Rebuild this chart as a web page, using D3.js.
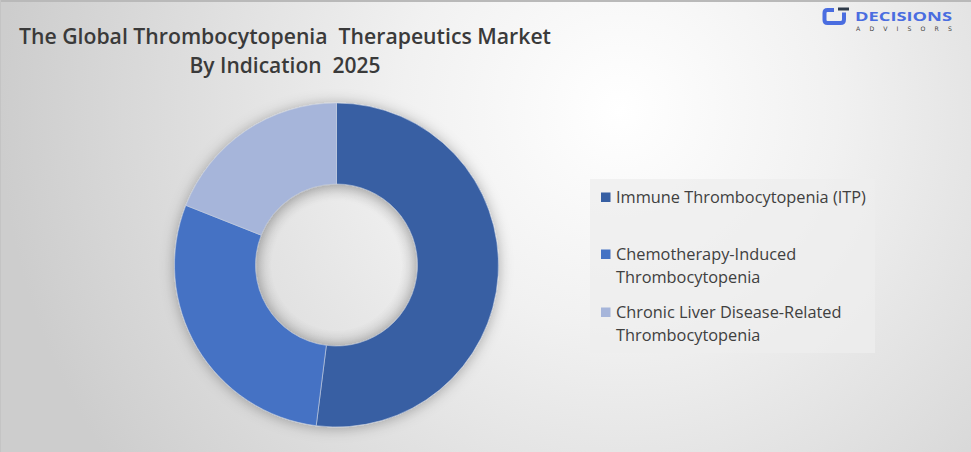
<!DOCTYPE html>
<html><head><meta charset="utf-8">
<script src="https://cdn.jsdelivr.net/npm/d3@7"></script>
<style>html,body{margin:0;padding:0;overflow:hidden;}svg{display:block;}</style>
</head><body>
<script>
const categories = ["Immune Thrombocytopenia (ITP)", "Chemotherapy-Induced Thrombocytopenia", "Chronic Liver Disease-Related Thrombocytopenia"];
const values = [52, 29, 19];
const legendLines = [["Immune Thrombocytopenia (ITP)"], ["Chemotherapy-Induced", "Thrombocytopenia"], ["Chronic Liver Disease-Related", "Thrombocytopenia"]];
const colors = ["#375fa3", "#4472c4", "#a6b5da"];
const titleLines = ["The Global Thrombocytopenia  Therapeutics Market", "By Indication  2025"];

const W = 971, H = 452;
const svg = d3.select("body").append("svg").attr("width", W).attr("height", H);
const defs = svg.append("defs");
const rg = defs.append("radialGradient").attr("id", "bg").attr("gradientUnits", "userSpaceOnUse")
  .attr("cx", 620).attr("cy", 110).attr("r", 620);
rg.append("stop").attr("offset", "0").attr("stop-color", "#ffffff");
rg.append("stop").attr("offset", "0.35").attr("stop-color", "#f1f1f1");
rg.append("stop").attr("offset", "1").attr("stop-color", "#cdcdcd");
const f = defs.append("filter").attr("id", "sh").attr("x", "-30%").attr("y", "-30%").attr("width", "160%").attr("height", "160%");
f.append("feDropShadow").attr("dx", 0).attr("dy", 1).attr("stdDeviation", 7).attr("flood-color", "#000").attr("flood-opacity", 0.3);

svg.append("rect").attr("width", W).attr("height", H).attr("fill", "url(#bg)");
svg.append("rect").attr("width", W).attr("height", 2).attr("fill", "#b9b9b9");
svg.append("rect").attr("x", 0).attr("y", 0).attr("width", 1).attr("height", H).attr("fill", "#c4c4c4");

// title
const tfont = "'Open Sans', sans-serif";
const t1 = svg.append("text").attr("x", 285).attr("y", 43.5).attr("text-anchor", "middle")
  .attr("font-family", tfont).attr("font-weight", 600).attr("font-size", 22).attr("fill", "#3a3a3a")
  .attr("xml:space", "preserve").text(titleLines[0]);
const t2 = svg.append("text").attr("x", 285).attr("y", 73).attr("text-anchor", "middle")
  .attr("font-family", tfont).attr("font-weight", 600).attr("font-size", 22).attr("fill", "#3a3a3a")
  .attr("xml:space", "preserve").text(titleLines[1]);
[[t1, 532], [t2, 191]].forEach(([t, w]) => {
  t.attr("textLength", w).attr("lengthAdjust", "spacingAndGlyphs");
});

// donut
const cx = 336.5, cy = 265, rOut = 162, rIn = 81;
const pie = d3.pie().sort(null).value(d => d)(values);
const arc = d3.arc().innerRadius(rIn).outerRadius(rOut);
const g = svg.append("g").attr("transform", `translate(${cx},${cy})`);
g.append("g").attr("filter", "url(#sh)").selectAll("path").data(pie).join("path")
  .attr("d", arc).attr("fill", (d, i) => colors[i]).attr("stroke", "#c8d0e0").attr("stroke-width", 0.6);
const ig = defs.append("radialGradient").attr("id", "hole");
ig.append("stop").attr("offset", "0.8").attr("stop-color", "#000").attr("stop-opacity", 0);
ig.append("stop").attr("offset", "1").attr("stop-color", "#000").attr("stop-opacity", 0.08);
g.append("circle").attr("r", rIn).attr("fill", "url(#hole)");

// legend
svg.append("rect").attr("x", 590).attr("y", 179).attr("width", 285).attr("height", 174).attr("fill", "#ededed").attr("opacity", 0.75);
const lfont = "'Open Sans', 'Noto Sans', sans-serif";
const rowY = [[197], [254, 277], [312, 335]];
const lg = svg.append("g");
legendLines.forEach((lines, i) => {
  lg.append("rect").attr("x", 601).attr("y", rowY[i][0] - 4.5).attr("width", 9.5).attr("height", 9.5).attr("fill", colors[i]);
  lines.forEach((ln, j) => {
    lg.append("text").attr("x", 616).attr("y", rowY[i][j]).attr("dy", "0.35em")
      .attr("font-family", lfont).attr("font-size", 15.5).attr("fill", "#404040").text(ln);
  });
});
const firstT = lg.selectAll("text").nodes()[0];
const scale = 250 / firstT.getComputedTextLength();
lg.selectAll("text").attr("font-size", 15.5 * scale);

// logo
const logo = svg.append("g");
logo.append("path").attr("d", "M834,10 H827.5 Q824.5,10 824.5,13 V20 Q824.5,23 827.5,23 H840.5 Q844,23 844,19.5 V12.5")
  .attr("fill", "none").attr("stroke", "#4a6de0").attr("stroke-width", 4).attr("stroke-linecap", "butt");
logo.append("rect").attr("x", 838).attr("y", 7.5).attr("width", 11).attr("height", 3).attr("fill", "#2f3b4a");
logo.append("text").attr("x", 855).attr("y", 20.5).attr("font-family", "'Open Sans', sans-serif").attr("font-weight", "bold")
  .attr("font-size", 12).attr("fill", "#4a6de0").attr("textLength", 97).attr("lengthAdjust", "spacingAndGlyphs").text("DECISIONS");
logo.append("text").attr("x", 856).attr("y", 30.7).attr("font-family", "'DejaVu Sans', sans-serif")
  .attr("font-size", 6.2).attr("fill", "#444").attr("textLength", 96).attr("lengthAdjust", "spacing").text("ADVISORS");
</script>
</body></html>
